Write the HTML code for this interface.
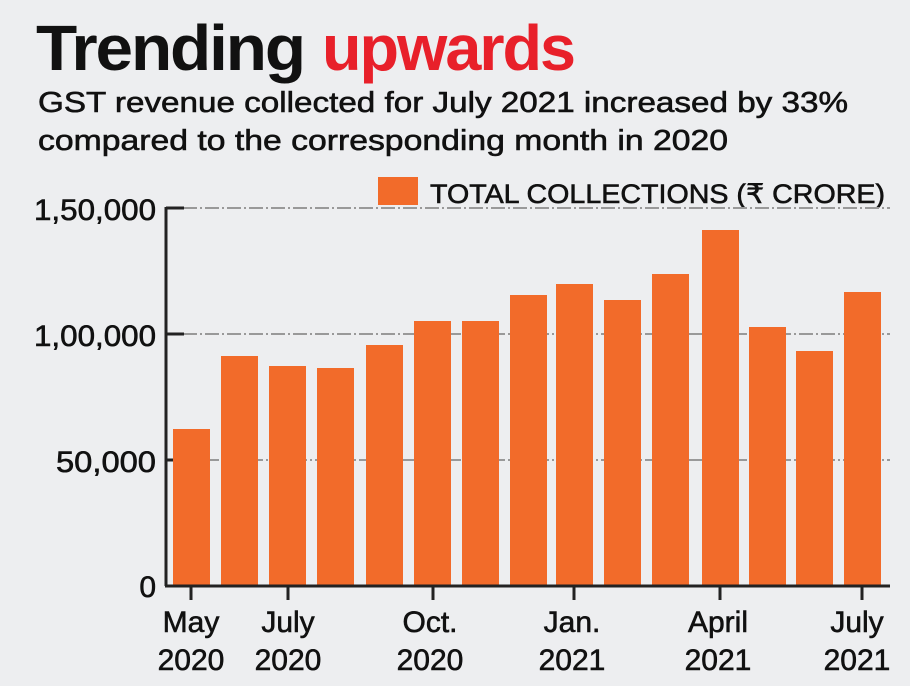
<!DOCTYPE html>
<html><head><meta charset="utf-8"><style>
body{margin:0;background:#edeef0;}
svg{display:block}
text{font-family:"Liberation Sans",sans-serif;fill:#111}
.m{stroke:#111;stroke-width:0.6}
</style></head><body>
<svg width="910" height="686" viewBox="0 0 910 686">
<rect width="910" height="686" fill="#edeef0"/>
<text x="36" y="70" font-size="64" font-weight="bold" letter-spacing="-2" textLength="268" lengthAdjust="spacingAndGlyphs">Trending</text>
<text x="322" y="70" font-size="64" font-weight="bold" fill="#e8202a" style="fill:#e8202a" letter-spacing="-2" textLength="252" lengthAdjust="spacingAndGlyphs">upwards</text>
<text class="m" x="38" y="112" font-size="29" textLength="810" lengthAdjust="spacingAndGlyphs">GST revenue collected for July 2021 increased by 33%</text>
<text class="m" x="38" y="150" font-size="29" textLength="690" lengthAdjust="spacingAndGlyphs">compared to the corresponding month in 2020</text>
<rect x="378" y="177" width="40" height="28" fill="#f26b2a"/>
<text class="m" x="430" y="203" font-size="27" textLength="455" lengthAdjust="spacingAndGlyphs">TOTAL COLLECTIONS (₹ CRORE)</text>
<g stroke="#999" stroke-width="2" stroke-dasharray="14 3 2 3">
<line x1="183" y1="208" x2="890" y2="208"/>
<line x1="183" y1="334" x2="890" y2="334"/>
<line x1="183" y1="460" x2="890" y2="460"/>
</g>
<g stroke="#222" stroke-width="3">
<line x1="166" y1="207" x2="166" y2="586"/>
<line x1="166" y1="208" x2="184" y2="208"/>
<line x1="166" y1="334" x2="184" y2="334"/>
<line x1="166" y1="460" x2="184" y2="460"/>
</g>
<g fill="#f26b2a">
<rect x="173" y="429" width="37" height="156"/>
<rect x="221" y="356" width="37" height="229"/>
<rect x="269" y="366" width="37" height="219"/>
<rect x="317" y="368" width="37" height="217"/>
<rect x="366" y="345" width="37" height="240"/>
<rect x="414" y="321" width="37" height="264"/>
<rect x="462" y="321" width="37" height="264"/>
<rect x="510" y="295" width="37" height="290"/>
<rect x="556" y="284" width="37" height="301"/>
<rect x="604" y="300" width="37" height="285"/>
<rect x="652" y="274" width="37" height="311"/>
<rect x="702" y="230" width="37" height="355"/>
<rect x="749" y="327" width="37" height="258"/>
<rect x="796" y="351" width="37" height="234"/>
<rect x="844" y="292" width="37" height="293"/>
</g>
<line x1="165" y1="586" x2="890" y2="586" stroke="#222" stroke-width="3"/>
<g stroke="#222" stroke-width="3">
<line x1="191" y1="586" x2="191" y2="600"/>
<line x1="288" y1="586" x2="288" y2="600"/>
<line x1="433" y1="586" x2="433" y2="600"/>
<line x1="574" y1="586" x2="574" y2="600"/>
<line x1="720" y1="586" x2="720" y2="600"/>
<line x1="862" y1="586" x2="862" y2="600"/>
</g>
<g font-size="30" text-anchor="end" class="m">
<text x="156" y="220" textLength="122" lengthAdjust="spacingAndGlyphs">1,50,000</text>
<text x="156" y="346" textLength="122" lengthAdjust="spacingAndGlyphs">1,00,000</text>
<text x="156" y="472" textLength="100" lengthAdjust="spacingAndGlyphs">50,000</text>
<text x="156" y="597">0</text>
</g>
<g font-size="30" text-anchor="middle" class="m">
<text x="191" y="632">May</text><text x="191" y="670">2020</text>
<text x="288" y="632">July</text><text x="288" y="670">2020</text>
<text x="430" y="632">Oct.</text><text x="430" y="670">2020</text>
<text x="572" y="632">Jan.</text><text x="572" y="670">2021</text>
<text x="718" y="632">April</text><text x="718" y="670">2021</text>
<text x="857" y="632">July</text><text x="857" y="670">2021</text>
</g>
</svg>
</body></html>
